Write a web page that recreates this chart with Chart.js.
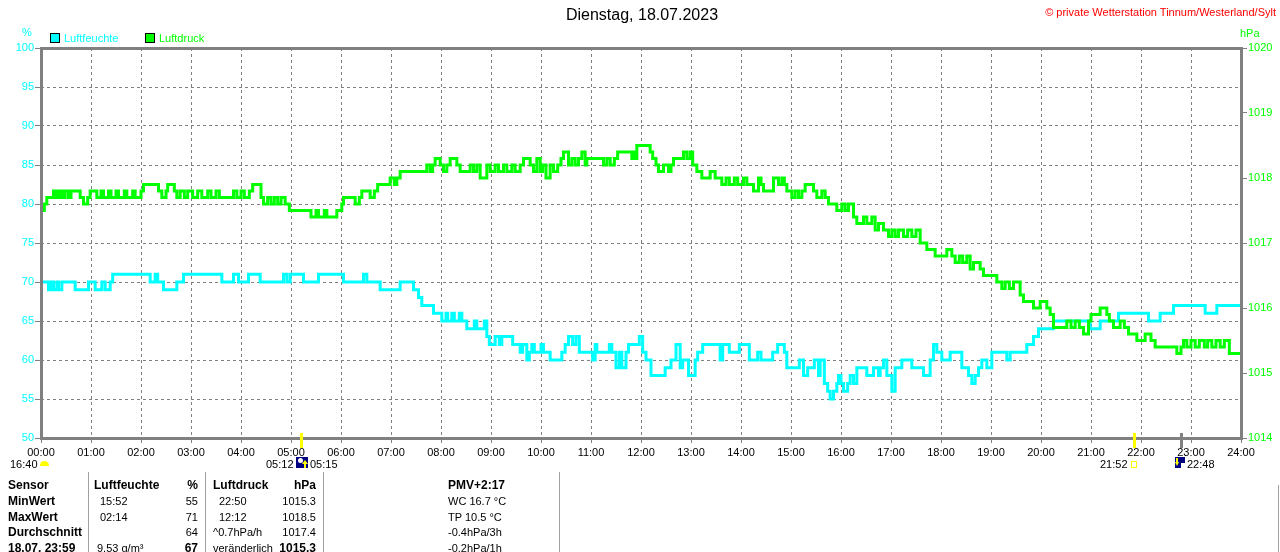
<!DOCTYPE html>
<html>
<head>
<meta charset="utf-8">
<title>Dienstag, 18.07.2023</title>
<script src="https://cdn.jsdelivr.net/npm/chart.js@4.4.1/dist/chart.umd.min.js"></script>
<style>
  html, body { margin: 0; padding: 0; background: #fff; }
  #wrap { position: relative; width: 1280px; height: 552px; overflow: hidden;
          font-family: 'Liberation Sans', Arial, sans-serif; font-size: 11px; color: #000; }
  #wrap canvas { position: absolute; left: 0; top: 0; }
  .t { position: absolute; white-space: nowrap; line-height: 14px; }
  .b { font-weight: bold; font-size: 12px; }
  .box { position: absolute; }
</style>
</head>
<body>
<div id="wrap">
  <canvas id="chart" width="1280" height="552"></canvas>
</div>
<script>
'use strict';

var TITLE = 'Dienstag, 18.07.2023';
var COPYRIGHT = '\u00a9 private Wetterstation Tinnum/Westerland/Sylt';
var SERIES_NAMES = ['Luftfeuchte', 'Luftdruck'];
var UNITS = ['%', 'hPa'];

// relative humidity in %, [time, value] at each change
var humidityReadings = [
	['00:00', 69], ['00:09', 70], ['00:12', 69], ['00:15', 70], ['00:19', 69], ['00:21', 70], ['00:25', 69], ['00:41', 70], ['00:57', 69],
	['01:05', 70], ['01:13', 69], ['01:17', 70], ['01:23', 69], ['01:26', 70],
	['02:11', 71], ['02:17', 70], ['02:20', 71], ['02:27', 70], ['02:43', 69], ['02:51', 70],
	['03:37', 71], ['03:51', 70], ['03:57', 71],
	['04:09', 70], ['04:23', 71], ['04:51', 70], ['04:55', 71], ['04:59', 70],
	['05:15', 71], ['05:33', 70],
	['06:03', 71], ['06:27', 70], ['06:31', 71], ['06:47', 70],
	['07:11', 69], ['07:27', 70], ['07:33', 69], ['07:37', 68], ['07:51', 67],
	['08:01', 66], ['08:06', 65], ['08:08', 66], ['08:13', 65], ['08:16', 66], ['08:22', 65], ['08:25', 66], ['08:31', 65],
	['08:40', 64], ['08:43', 65], ['08:52', 64], ['08:55', 65], ['08:58', 63],
	['09:05', 62], ['09:10', 63], ['09:13', 62], ['09:26', 63], ['09:35', 62], ['09:38', 61], ['09:43', 62], ['09:46', 60], ['09:49', 61], ['09:52', 62],
	['10:00', 61], ['10:03', 62], ['10:11', 61], ['10:25', 60], ['10:29', 61], ['10:33', 62], ['10:38', 63], ['10:42', 62], ['10:46', 63],
	['11:02', 61], ['11:05', 60], ['11:07', 62], ['11:22', 61], ['11:25', 62], ['11:30', 61], ['11:34', 59], ['11:37', 61], ['11:42', 59], ['11:45', 61], ['11:58', 62],
	['12:02', 63], ['12:06', 61], ['12:12', 60], ['12:29', 58], ['12:36', 59], ['12:42', 60], ['12:47', 62], ['12:50', 59], ['12:57', 60],
	['13:05', 58], ['13:08', 60], ['13:14', 61], ['13:35', 62], ['13:38', 60], ['13:46', 62], ['13:58', 61],
	['14:10', 62], ['14:20', 60], ['14:24', 61], ['14:38', 60], ['14:44', 61], ['14:52', 62], ['14:55', 61],
	['15:10', 59], ['15:15', 60], ['15:20', 58], ['15:28', 59], ['15:33', 60], ['15:35', 58], ['15:40', 60], ['15:44', 57], ['15:47', 56], ['15:51', 55], ['15:55', 56], ['15:57', 57],
	['16:00', 58], ['16:03', 57], ['16:08', 56], ['16:11', 57], ['16:15', 58], ['16:19', 57], ['16:31', 59], ['16:39', 58], ['16:45', 59], ['16:47', 58], ['16:51', 59], ['16:55', 60],
	['17:01', 58], ['17:05', 56], ['17:13', 59], ['17:25', 60], ['17:39', 59], ['17:47', 58], ['17:51', 60], ['17:55', 62],
	['18:01', 61], ['18:11', 60], ['18:25', 61], ['18:33', 59], ['18:37', 58], ['18:41', 57], ['18:45', 58], ['18:49', 59], ['18:55', 60],
	['19:01', 59], ['19:19', 61], ['19:23', 60], ['19:43', 61], ['19:51', 62], ['19:57', 63],
	['20:15', 64], ['20:59', 65], ['21:11', 64], ['21:33', 65], ['22:09', 66], ['22:23', 65], ['22:39', 66],
	['23:17', 67], ['23:31', 66], ['23:41', 67], ['24:00', 67]
];

// air pressure in hPa, [time, value] at each change
var pressureReadings = [
	['00:00', 1017.6], ['00:04', 1017.5], ['00:07', 1017.6], ['00:15', 1017.7], ['00:17', 1017.8], ['00:19', 1017.7], ['00:22', 1017.8], ['00:24', 1017.7],
	['00:27', 1017.8], ['00:29', 1017.7], ['00:33', 1017.8], ['00:36', 1017.7], ['00:47', 1017.8], ['00:51', 1017.7], ['00:56', 1017.6], ['00:59', 1017.7],
	['01:07', 1017.8], ['01:12', 1017.7], ['01:15', 1017.8], ['01:21', 1017.7], ['01:24', 1017.8], ['01:30', 1017.7], ['01:33', 1017.8], ['01:40', 1017.7],
	['01:43', 1017.8], ['01:50', 1017.7], ['01:53', 1017.8],
	['02:00', 1017.7], ['02:03', 1017.8], ['02:21', 1017.9], ['02:25', 1017.8], ['02:30', 1017.7], ['02:32', 1017.8], ['02:40', 1017.9], ['02:43', 1017.8],
	['02:47', 1017.7], ['02:52', 1017.8], ['02:56', 1017.7],
	['03:02', 1017.8], ['03:08', 1017.7], ['03:13', 1017.8], ['03:20', 1017.7], ['03:24', 1017.8], ['03:30', 1017.7], ['03:34', 1017.8], ['03:51', 1017.7], ['03:55', 1017.8],
	['04:00', 1017.7], ['04:04', 1017.8], ['04:10', 1017.7], ['04:14', 1017.8], ['04:24', 1017.9], ['04:27', 1017.7], ['04:32', 1017.6], ['04:36', 1017.7],
	['04:40', 1017.6], ['04:44', 1017.7], ['04:48', 1017.6], ['04:53', 1017.7], ['04:58', 1017.6],
	['05:24', 1017.5], ['05:30', 1017.4], ['05:33', 1017.5], ['05:40', 1017.4], ['05:43', 1017.5], ['05:55', 1017.4],
	['06:01', 1017.5], ['06:03', 1017.6], ['06:17', 1017.7], ['06:22', 1017.6], ['06:25', 1017.7], ['06:35', 1017.8], ['06:40', 1017.7], ['06:44', 1017.8], ['06:59', 1017.9],
	['07:04', 1018.0], ['07:07', 1017.9], ['07:11', 1018.0], ['07:43', 1018.1], ['07:47', 1018.2], ['07:50', 1018.1], ['07:53', 1018.2], ['07:59', 1018.3],
	['08:03', 1018.2], ['08:07', 1018.1], ['08:11', 1018.2], ['08:19', 1018.3], ['08:23', 1018.2], ['08:35', 1018.1], ['08:39', 1018.2], ['08:43', 1018.1],
	['08:47', 1018.2], ['08:55', 1018.0], ['08:59', 1018.2],
	['09:05', 1018.1], ['09:09', 1018.2], ['09:15', 1018.1], ['09:19', 1018.2], ['09:25', 1018.1], ['09:29', 1018.2], ['09:35', 1018.1], ['09:39', 1018.2],
	['09:47', 1018.3], ['09:51', 1018.2], ['09:55', 1018.1], ['09:59', 1018.3],
	['10:02', 1018.1], ['10:06', 1018.2], ['10:11', 1018.0], ['10:15', 1018.2], ['10:20', 1018.1], ['10:24', 1018.2], ['10:27', 1018.3], ['10:33', 1018.4],
	['10:37', 1018.2], ['10:41', 1018.3], ['10:45', 1018.2], ['10:49', 1018.3], ['10:53', 1018.4], ['10:55', 1018.2],
	['11:15', 1018.3], ['11:19', 1018.2], ['11:23', 1018.3], ['11:28', 1018.2], ['11:32', 1018.3], ['11:49', 1018.4], ['11:51', 1018.3], ['11:53', 1018.4], ['11:55', 1018.3],
	['12:11', 1018.5], ['12:14', 1018.4], ['12:18', 1018.3], ['12:21', 1018.2], ['12:27', 1018.1], ['12:33', 1018.2], ['12:36', 1018.1], ['12:39', 1018.2],
	['12:51', 1018.3], ['12:55', 1018.4], ['12:59', 1018.3],
	['13:02', 1018.4], ['13:07', 1018.2], ['13:13', 1018.1], ['13:23', 1018.0], ['13:29', 1018.1], ['13:37', 1018.0], ['13:42', 1017.9], ['13:46', 1018.0],
	['13:52', 1017.9], ['13:56', 1018.0],
	['14:03', 1017.9], ['14:07', 1018.0], ['14:15', 1017.9], ['14:21', 1017.8], ['14:24', 1018.0], ['14:27', 1017.9], ['14:39', 1017.8], ['14:45', 1018.0],
	['14:49', 1017.9], ['14:52', 1018.0], ['14:55', 1017.9],
	['15:01', 1017.8], ['15:05', 1017.7], ['15:09', 1017.8], ['15:13', 1017.7], ['15:17', 1017.8], ['15:27', 1017.9], ['15:31', 1017.8], ['15:37', 1017.7],
	['15:41', 1017.8], ['15:45', 1017.7], ['15:55', 1017.6],
	['16:01', 1017.5], ['16:05', 1017.6], ['16:09', 1017.5], ['16:15', 1017.6], ['16:19', 1017.4], ['16:27', 1017.3], ['16:31', 1017.4], ['16:37', 1017.3],
	['16:41', 1017.4], ['16:45', 1017.2], ['16:51', 1017.3], ['16:57', 1017.2],
	['17:01', 1017.1], ['17:05', 1017.2], ['17:09', 1017.1], ['17:15', 1017.2], ['17:20', 1017.1], ['17:25', 1017.2], ['17:30', 1017.1], ['17:35', 1017.2],
	['17:43', 1017.0], ['17:53', 1016.9],
	['18:07', 1016.8], ['18:13', 1016.9], ['18:17', 1016.8], ['18:22', 1016.7], ['18:26', 1016.8], ['18:31', 1016.7], ['18:35', 1016.8], ['18:39', 1016.6],
	['18:47', 1016.7], ['18:51', 1016.6],
	['19:07', 1016.5], ['19:13', 1016.4], ['19:17', 1016.3], ['19:22', 1016.4], ['19:27', 1016.3], ['19:35', 1016.4], ['19:39', 1016.2], ['19:51', 1016.1], ['19:59', 1016.0],
	['20:07', 1016.1], ['20:11', 1016.0], ['20:15', 1015.9], ['20:31', 1015.7], ['20:36', 1015.8], ['20:41', 1015.7], ['20:46', 1015.8], ['20:51', 1015.7], ['20:57', 1015.6],
	['21:00', 1015.8], ['21:11', 1015.9], ['21:19', 1016.0], ['21:22', 1015.9], ['21:27', 1015.8], ['21:35', 1015.7], ['21:40', 1015.8], ['21:45', 1015.7], ['21:55', 1015.6],
	['22:05', 1015.5], ['22:12', 1015.6], ['22:17', 1015.5], ['22:43', 1015.4], ['22:48', 1015.3], ['22:51', 1015.4], ['22:55', 1015.5],
	['23:00', 1015.4], ['23:05', 1015.5], ['23:10', 1015.4], ['23:16', 1015.5], ['23:20', 1015.4], ['23:25', 1015.5], ['23:30', 1015.4], ['23:35', 1015.5],
	['23:40', 1015.4], ['23:46', 1015.5], ['23:51', 1015.3], ['24:00', 1015.3]
];

// sunrise/sunset and moon marks under the time axis
var astroMarks = [
	{time: '05:12', color: '#ffff00'},
	{time: '21:52', color: '#ffff00'},
	{time: '22:48', color: '#808080'}
];

var tableHeader = ['Sensor', 'Luftfeuchte', '%', 'Luftdruck', 'hPa', 'PMV+2:17'];
var tableRows = [
	['MinWert', '15:52', '55', '22:50', '1015.3', 'WC 16.7 \u00b0C'],
	['MaxWert', '02:14', '71', '12:12', '1018.5', 'TP 10.5 \u00b0C'],
	['Durchschnitt', '', '64', '^0.7hPa/h', '1017.4', '-0.4hPa/3h'],
	['18.07.  23:59', '9.53 g/m\u00b3', '67', 'ver\u00e4nderlich', '1015.3', '-0.2hPa/1h']
];

var FONT = "'Liberation Sans', Arial, sans-serif";
var GREY = '#808080';
var CYAN = '#00ffff';
var GREEN = '#00ff00';

function toHours(t) {
	var p = t.split(':');
	return parseInt(p[0], 10) + parseInt(p[1], 10) / 60;
}

function toPoints(readings) {
	return readings.map(function(r) {
		return {x: toHours(r[0]), y: r[1]};
	});
}

function pad2(v) {
	return (v < 10 ? '0' : '') + v;
}

// overlay texts
var wrap = document.getElementById('wrap');

function text(str, x, y, opts) {
	opts = opts || {};
	var el = document.createElement('div');
	el.className = 't' + (opts.bold ? ' b' : '');
	el.textContent = str;
	if (opts.size) el.style.fontSize = opts.size + 'px';
	if (opts.color) el.style.color = opts.color;
	el.style.top = (y - 7) + 'px';
	if (opts.align === 'right') {
		el.style.right = (1280 - x) + 'px';
	} else if (opts.align === 'center') {
		el.style.left = (x - 200) + 'px';
		el.style.width = '400px';
		el.style.textAlign = 'center';
	} else {
		el.style.left = x + 'px';
	}
	wrap.appendChild(el);
	return el;
}

function box(x, y, w, h, css) {
	var el = document.createElement('div');
	el.className = 'box';
	el.style.left = x + 'px';
	el.style.top = y + 'px';
	el.style.width = w + 'px';
	el.style.height = h + 'px';
	el.style.cssText += css || '';
	wrap.appendChild(el);
	return el;
}

text(TITLE, 642, 15, {size: 16, align: 'center'});
text(COPYRIGHT, 1276, 12, {color: '#ff0000', align: 'right'});
text(UNITS[0], 22, 32, {color: CYAN});
text(UNITS[1], 1240, 33, {color: GREEN});

// legend
box(50, 33, 8, 8, 'background:' + CYAN + ';border:1px solid #000;');
text(SERIES_NAMES[0], 64, 38, {color: CYAN});
box(145, 33, 8, 8, 'background:' + GREEN + ';border:1px solid #000;');
text(SERIES_NAMES[1], 159, 38, {color: GREEN});

// astro labels under the axis
text('16:40', 10, 464);
box(40, 461, 9, 5, 'background:#ffff00;border-radius:5px 5px 0 0;');
text('05:12', 266, 464);
box(296, 457, 12, 11, 'background:#000080;');
box(298, 458, 5, 5, 'background:#ffffff;border-radius:3px;');
box(302, 460, 0, 0, 'border-left:3px solid transparent;border-right:3px solid transparent;border-bottom:4px solid #ffff00;');
box(304, 464, 2, 4, 'background:#ffff00;');
text('05:15', 310, 464);
text('21:52', 1100, 464);
box(1131, 461, 4, 5, 'border:1px solid #ffff00;');
box(1175, 457, 10, 11, 'background:#000080;');
box(1176, 458, 2, 4, 'background:#ffff00;');
box(1175, 462, 0, 0, 'border-left:2px solid transparent;border-right:2px solid transparent;border-top:4px solid #ffff00;');
box(1181, 463, 4, 5, 'background:#ffffff;');
text('22:48', 1187, 464);

// summary table
var colX = [8, 94, 198, 213, 316, 448];
var colAlign = ['left', 'left', 'right', 'left', 'right', 'left'];
var indent = [0, 6, 0, 6, 0, 0];
var rowY = [485, 501, 517, 532, 548];

[88, 205, 323, 559].forEach(function(lx) {
	box(lx, 472, 1, 80, 'background:#a0a0a0;');
});
box(1278, 485, 1, 67, 'background:#a0a0a0;');

tableHeader.forEach(function(h, c) {
	text(h, colX[c], rowY[0], {bold: true, align: colAlign[c]});
});
tableRows.forEach(function(row, r) {
	var last = r === tableRows.length - 1;
	row.forEach(function(cell, c) {
		if (!cell) return;
		var x = colX[c];
		if (c === 1 || c === 3) {
			x += (/^\d\d:\d\d$/.test(cell) ? indent[c] : (c === 1 ? 3 : 0));
		}
		var bold = c === 0 || (last && (c === 2 || c === 4));
		text(cell, x, rowY[r + 1], {bold: bold, align: colAlign[c]});
	});
});

// frame around the plot and the astro marks on the axis
var framePlugin = {
	id: 'frame',
	afterDatasetsDraw: function(chart) {
		var ctx = chart.ctx;
		var a = chart.chartArea;
		var xs = chart.scales.x;
		ctx.save();
		ctx.lineWidth = 3;
		ctx.strokeStyle = GREY;
		ctx.strokeRect(a.left + 0.5, a.top + 0.5, a.right - a.left, a.bottom - a.top);
		astroMarks.forEach(function(m) {
			var x = Math.round(xs.getPixelForValue(toHours(m.time))) + 0.5;
			ctx.strokeStyle = m.color;
			ctx.beginPath();
			ctx.moveTo(x, a.bottom - 5);
			ctx.lineTo(x, a.bottom + 10);
			ctx.stroke();
		});
		ctx.restore();
	}
};

new Chart(document.getElementById('chart'), {
	type: 'line',
	data: {
		datasets: [{
			label: SERIES_NAMES[0],
			data: toPoints(humidityReadings),
			yAxisID: 'y',
			borderColor: CYAN,
			backgroundColor: CYAN,
			borderWidth: 3,
			pointRadius: 0,
			stepped: 'after',
			order: 1
		}, {
			label: SERIES_NAMES[1],
			data: toPoints(pressureReadings),
			yAxisID: 'y1',
			borderColor: GREEN,
			backgroundColor: GREEN,
			borderWidth: 3,
			pointRadius: 0,
			stepped: 'after',
			order: 0
		}]
	},
	options: {
		responsive: false,
		animation: false,
		devicePixelRatio: 1,
		layout: {padding: {top: 48, left: 0, right: 0, bottom: 0}},
		plugins: {
			legend: {display: false},
			tooltip: {enabled: false},
			title: {display: false}
		},
		scales: {
			x: {
				type: 'linear',
				min: 0,
				max: 24,
				afterFit: function(s) { s.height = 114; },
				ticks: {
					stepSize: 1,
					autoSkip: false,
					maxRotation: 0,
					color: '#000',
					padding: 3,
					font: {family: FONT, size: 11},
					callback: function(v) { return pad2(v) + ':00'; }
				},
				grid: {color: GREY, lineWidth: 1, tickLength: 5, tickColor: GREY},
				border: {display: false, dash: [3, 3]}
			},
			y: {
				position: 'left',
				min: 50,
				max: 100,
				afterFit: function(s) { s.width = 41; },
				ticks: {
					stepSize: 5,
					color: CYAN,
					padding: 1,
					font: {family: FONT, size: 11},
					callback: function(v) { return String(v); }
				},
				grid: {color: GREY, lineWidth: 1, tickLength: 6, tickColor: GREY},
				border: {display: false, dash: [3, 3]}
			},
			y1: {
				position: 'right',
				min: 1014,
				max: 1020,
				afterFit: function(s) { s.width = 39; },
				ticks: {
					stepSize: 1,
					color: GREEN,
					padding: 1,
					font: {family: FONT, size: 11},
					callback: function(v) { return String(v); }
				},
				grid: {drawOnChartArea: false, tickLength: 6, tickColor: GREY},
				border: {display: false}
			}
		}
	},
	plugins: [framePlugin]
});
</script>
</body>
</html>
